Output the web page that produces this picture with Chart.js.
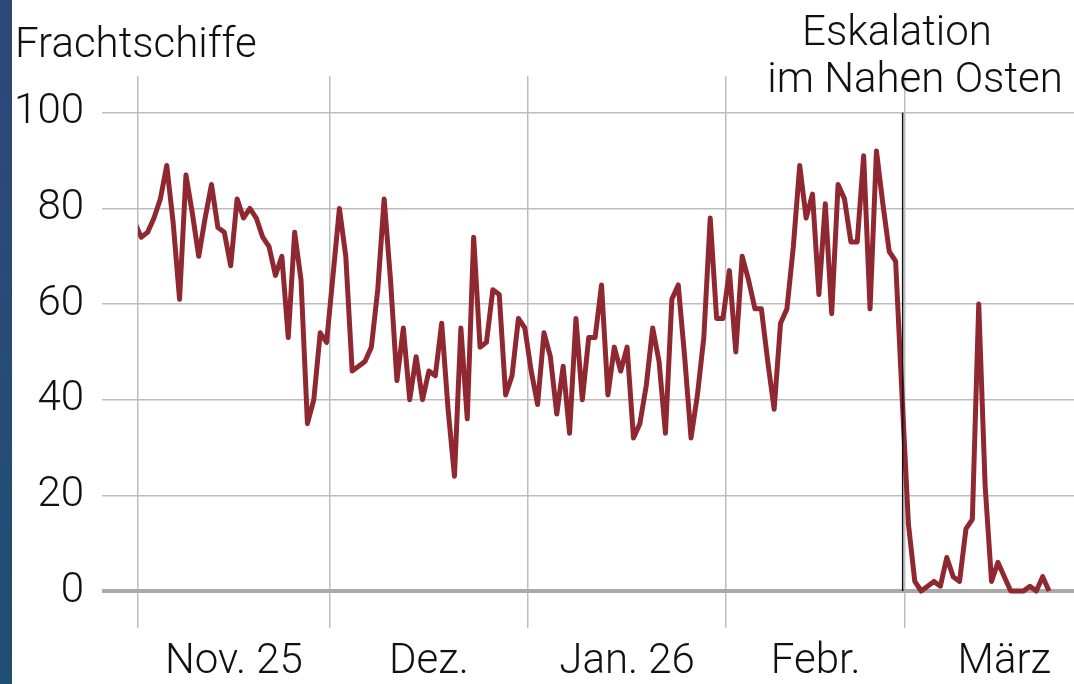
<!DOCTYPE html>
<html lang="de">
<head>
<meta charset="utf-8">
<title>Frachtschiffe</title>
<script src="https://cdn.jsdelivr.net/npm/chart.js@4.4.1/dist/chart.umd.min.js"></script>
<style>
  html, body { margin: 0; padding: 0; background: #fff; }
  #wrap { position: relative; width: 1074px; height: 684px; overflow: hidden; }
  #strip { position: absolute; left: 0; top: 0; width: 12px; height: 684px;
           background: linear-gradient(#2f4779, #1f4f72); }
  canvas { position: absolute; left: 0; top: 0; }
</style>
</head>
<body>
<div id="wrap">
  <canvas id="chart" width="1074" height="684"></canvas>
  <div id="strip"></div>
</div>
<script>
// daily counts, first value = 31 Oct (day -1), then 1 Nov 2025 onward
const firstDay = -1;
const ships = [
  77, 74, 75, 78, 82, 89, 77, 61, 87, 79, 70, 78, 85, 76, 75, 68,
  82, 78, 80, 78, 74, 72, 66, 70, 53, 75, 65, 35, 40, 54, 52,
  66, 80, 70, 46, 47, 48, 51, 63, 82, 65, 44, 55, 40, 49, 40,
  46, 45, 56, 38, 24, 55, 36, 74, 51, 52, 63, 62, 41, 45, 57, 55,
  46, 39, 54, 49, 37, 47, 33, 57, 40, 53, 53, 64, 41, 51, 46, 51,
  32, 35, 43, 55, 48, 33, 61, 64, 49, 32, 41, 53, 78, 57, 57,
  67, 50, 70, 65, 59, 59, 48, 38, 56, 59, 72, 89, 78, 83, 62, 81,
  58, 85, 82, 73, 73, 91, 59, 92, 81, 71, 69, 41,
  14, 2, 0, 1, 2, 1, 7, 3, 2, 13, 15, 60, 22, 2, 6, 3,
  0, 0, 0, 1, 0, 3, 0,
];

// month boundaries (days since 1 Nov) and the label for each month
const monthStarts = [0, 30, 61, 92, 120, 151];
const monthLabels = ['Nov. 25', 'Dez.', 'Jan. 26', 'Febr.', 'März'];
const yTicks = [0, 20, 40, 60, 80, 100];
const escalationDay = 119.6;

const xMax = 146.4;
const yMax = 107.7;

const points = ships.map((v, i) => ({ x: firstDay + i + 0.5, y: v }));
const monthMids = monthLabels.map((_, i) => (monthStarts[i] + monthStarts[i + 1]) / 2);
const labelAt = new Map(monthMids.map((m, i) => [m, monthLabels[i]]));

const FONT = 'Roboto, "Noto Sans", sans-serif';

const textPlugin = {
  id: 'texts',
  afterDatasetsDraw(chart) {
    const { ctx, scales } = chart;
    const x = scales.x.getPixelForValue(escalationDay);
    ctx.save();
    ctx.strokeStyle = '#111';
    ctx.lineWidth = 1.5;
    ctx.beginPath();
    ctx.moveTo(x, scales.y.getPixelForValue(100));
    ctx.lineTo(x, scales.y.getPixelForValue(0));
    ctx.stroke();

    ctx.fillStyle = '#111';
    ctx.font = `300 42px ${FONT}`;
    ctx.textBaseline = 'alphabetic';
    ctx.textAlign = 'left';
    ctx.fillText('Frachtschiffe', 15, 57);
    ctx.textAlign = 'center';
    ctx.fillText('Eskalation', 897, 45);
    ctx.fillText('im Nahen Osten', 915, 92);
    ctx.restore();
  },
};

new Chart(document.getElementById('chart'), {
  type: 'line',
  data: {
    datasets: [{
      data: points,
      borderColor: '#902832',
      borderWidth: 5,
      borderJoinStyle: 'round',
      pointRadius: 0,
      tension: 0,
      clip: { left: 0, top: 10, right: 10, bottom: 6 },
    }],
  },
  options: {
    responsive: false,
    animation: false,
    devicePixelRatio: 1,
    layout: { padding: { top: 76, left: 0, right: 0, bottom: 0 } },
    plugins: { legend: { display: false }, tooltip: { enabled: false } },
    scales: {
      x: {
        type: 'linear',
        min: 0,
        max: xMax,
        afterBuildTicks(scale) {
          scale.ticks = [...monthStarts.slice(0, 5), ...monthMids]
            .sort((a, b) => a - b)
            .map((v) => ({ value: v }));
        },
        afterFit(scale) { scale.height = 93; },
        border: { display: false },
        grid: {
          color: (c) => (c.tick && monthStarts.includes(c.tick.value) ? '#bdbdbd' : 'rgba(0,0,0,0)'),
          lineWidth: 1.5,
          tickLength: 37,
        },
        ticks: {
          autoSkip: false,
          maxRotation: 0,
          padding: 9,
          color: '#111',
          font: { family: FONT, size: 42, weight: '300' },
          callback: (v) => labelAt.get(v) || '',
        },
      },
      y: {
        min: 0,
        max: yMax,
        afterBuildTicks(scale) {
          scale.ticks = yTicks.map((v) => ({ value: v }));
        },
        afterFit(scale) { scale.width = 138; },
        border: { display: false },
        grid: {
          color: (c) => (c.tick && c.tick.value === 0 ? '#a9a9a9' : '#bdbdbd'),
          lineWidth: (c) => (c.tick && c.tick.value === 0 ? 4 : 1.5),
          tickLength: 36,
        },
        ticks: {
          padding: 18,
          color: '#111',
          font: { family: FONT, size: 42, weight: '300' },
        },
      },
    },
  },
  plugins: [textPlugin],
});
</script>
</body>
</html>
